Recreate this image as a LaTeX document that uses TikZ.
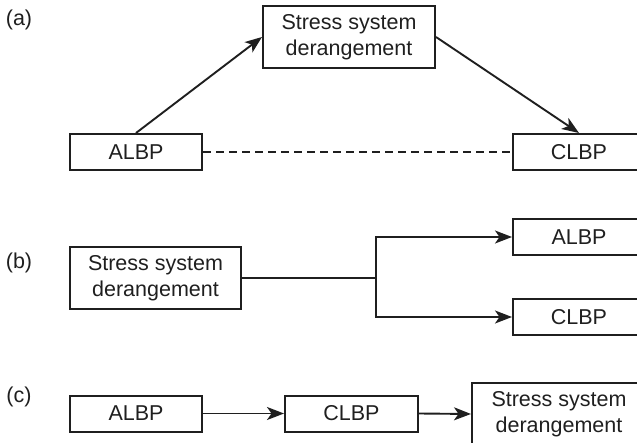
\documentclass[tikz,border=0pt]{standalone}
\usepackage{fontspec}
\setmainfont{Liberation Sans}
\usetikzlibrary{arrows.meta}
\begin{document}
\begin{tikzpicture}[x=1pt,y=-1pt,
  every node/.style={font=\fontsize{21.5}{25.7}\selectfont, text=black!88},
  box/.style={draw=black!88, line width=2pt, rectangle, inner sep=0pt, align=center,
              minimum width=132pt, minimum height=36pt},
  bigbox/.style={box, minimum width=172pt, minimum height=62pt},
  conn/.style={draw=black!88, line width=1.9pt},
  arr/.style={conn, -{Stealth[length=17pt, width=13pt, inset=4.5pt]}},
  tag/.style={inner sep=0pt}]
\useasboundingbox (0,0) rectangle (637,443);
\clip (0,0) rectangle (637,443);

% (a) Acute pain leads via derangement to chronic pain
\node[tag] (la) at (19,20) {(a)};
\node[bigbox] (astress) at (349,37) {Stress system\\derangement};
\node[box] (aalbp) at (136,152) {ALBP};
\node[box] (aclbp) at (579,152) {CLBP};
\draw[arr] (aalbp.north) -- (astress.west);
\draw[arr] (astress.east) -- (aclbp.north);
\draw[conn, dash pattern=on 8pt off 5pt] (aalbp.east) -- (aclbp.west);

% (b) Derangement as a common cause
\node[tag] (lb) at (19,263) {(b)};
\node[bigbox, minimum width=171pt] (bstress) at (155.5,278) {Stress system\\derangement};
\node[box] (balbp) at (579,237) {ALBP};
\node[box] (bclbp) at (579,317) {CLBP};
\coordinate (split) at (376,278);
\draw[conn] (bstress.east) -- (split);
\draw[arr] (split) |- (balbp.west);
\draw[arr] (split) |- (bclbp.west);

% (c) Derangement as a consequence
\node[tag] (lc) at (19,397) {(c)};
\node[box] (calbp) at (136,413.5) {ALBP};
\node[box, minimum width=133pt] (cclbp) at (351.5,413.5) {CLBP};
\node[bigbox, minimum width=174pt] (cstress) at (559,414) {Stress system\\derangement};
\draw[arr] (calbp.east) -- (cclbp.west);
\draw[arr] (cclbp.east) -- (cstress.west);
\end{tikzpicture}
\end{document}
